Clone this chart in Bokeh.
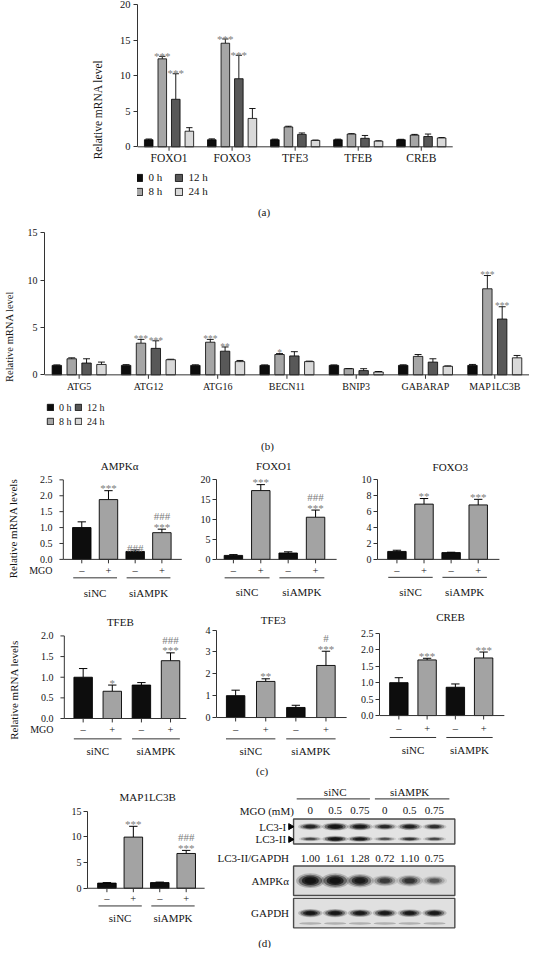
import math
import numpy as np
from bokeh.plotting import figure
from bokeh.layouts import column, row
from bokeh.models import Range1d, FixedTicker, NumeralTickFormatter, Legend, LegendItem
from bokeh.core.properties import value
from bokeh.embed import file_html
from bokeh.resources import INLINE

FONT = "Liberation Serif"

# ---------------- data: (a) ----------------
a_genes = ["FOXO1", "FOXO3", "TFE3", "TFEB", "CREB"]
times = ["0 h", "8 h", "12 h", "24 h"]
a_0h = [1.0, 1.0, 1.0, 1.0, 1.0]
a_8h = [12.4, 14.6, 2.8, 1.8, 1.65]
a_12h = [6.7, 9.6, 1.75, 1.2, 1.45]
a_24h = [2.2, 4.0, 0.9, 0.8, 1.25]
a_0h_err = [0.1, 0.12, 0.08, 0.08, 0.06]
a_8h_err = [0.35, 0.6, 0.1, 0.05, 0.1]
a_12h_err = [3.6, 3.3, 0.2, 0.4, 0.35]
a_24h_err = [0.5, 1.4, 0.05, 0.05, 0.05]
a_8h_sig = ["***", "***", "", "", ""]
a_12h_sig = ["***", "***", "", "", ""]

# ---------------- data: (b) ----------------
b_genes = ["ATG5", "ATG12", "ATG16", "BECN11", "BNIP3", "GABARAP", "MAP1LC3B"]
b_0h = [1.0, 1.0, 1.0, 1.0, 1.0, 1.0, 1.0]
b_8h = [1.7, 3.35, 3.45, 2.15, 0.65, 1.95, 9.1]
b_12h = [1.25, 2.8, 2.5, 2.0, 0.45, 1.35, 5.9]
b_24h = [1.1, 1.6, 1.4, 1.4, 0.3, 0.9, 1.8]
b_0h_err = [0.05, 0.08, 0.06, 0.05, 0.05, 0.06, 0.1]
b_8h_err = [0.1, 0.4, 0.3, 0.1, 0.02, 0.2, 1.4]
b_12h_err = [0.45, 0.8, 0.45, 0.45, 0.2, 0.35, 1.3]
b_24h_err = [0.25, 0.05, 0.12, 0.05, 0.05, 0.05, 0.25]
b_8h_sig = ["", "***", "***", "*", "", "", "***"]
b_12h_sig = ["", "***", "**", "", "", "", "***"]

# ---------------- data: (c) / (d) ----------------
mgo_signs = ["\u2013", "+", "\u2013", "+"]
si_groups = ["siNC", "siAMPK"]
ampk_mean = [1.0, 1.88, 0.25, 0.84]
ampk_err = [0.18, 0.28, 0.05, 0.11]
ampk_star = ["", "***", "", "***"]
ampk_hash = ["", "", "###", "###"]
foxo1_mean = [1.0, 17.3, 1.6, 10.6]
foxo1_err = [0.2, 1.5, 0.3, 1.8]
foxo1_star = ["", "***", "", "***"]
foxo1_hash = ["", "", "", "###"]
foxo3_mean = [1.0, 6.95, 0.85, 6.85]
foxo3_err = [0.15, 0.7, 0.05, 0.7]
foxo3_star = ["", "**", "", "***"]
foxo3_hash = ["", "", "", ""]
tfeb_mean = [1.0, 0.66, 0.81, 1.40]
tfeb_err = [0.21, 0.15, 0.06, 0.19]
tfeb_star = ["", "*", "", "***"]
tfeb_hash = ["", "", "", "###"]
tfe3_mean = [1.0, 1.65, 0.46, 2.38]
tfe3_err = [0.25, 0.12, 0.1, 0.65]
tfe3_star = ["", "**", "", "***"]
tfe3_hash = ["", "", "", "#"]
creb_mean = [1.0, 1.69, 0.86, 1.75]
creb_err = [0.15, 0.05, 0.1, 0.18]
creb_star = ["", "***", "", "***"]
creb_hash = ["", "", "", ""]
lc3b_mean = [1.0, 9.96, 1.1, 6.77]
lc3b_err = [0.1, 2.1, 0.1, 0.6]
lc3b_star = ["", "***", "", "***"]
lc3b_hash = ["", "", "", "###"]

# ---------------- data: western blot ----------------
blot_groups = ["siNC", "siAMPK"]
mgo_mM = ["0", "0.5", "0.75", "0", "0.5", "0.75"]
lc3_ratio = ["1.00", "1.61", "1.28", "0.72", "1.10", "0.75"]
band_lc3i = [0.75, 1.0, 0.9, 0.7, 0.8, 0.65]
band_lc3ii = [0.5, 0.95, 0.85, 0.45, 0.6, 0.5]
band_ampk = [1.0, 1.0, 0.85, 0.55, 0.6, 0.4]
band_gapdh = [0.95, 0.95, 0.9, 0.9, 0.88, 0.9]
blot_rows = ["LC3-I", "LC3-II", "AMPK\u03b1", "GAPDH"]

# ---------------- styling ----------------
BLACK = "#0d0d0d"
GRAY = "#a3a3a3"
A_COLORS = ["#0d0d0d", "#a6a6a6", "#585858", "#d9d9d9"]
STAR = "#7d7d7d"
AX = "#333333"
TXT = "#141414"

SX = 529 / 545
SY = 948 / 964


class Panel:
    def __init__(self, box, left, first, step, zero, top, tv):
        x0, x1, y0, y1 = box
        self.box = box
        self.W = round(x1 * SX) - round(x0 * SX)
        self.H = round(y1 * SY) - round(y0 * SY)
        self.L = round(left * SX) - round(x0 * SX)
        self.left, self.first, self.step = left, first, step
        self.zero, self.top, self.tv = zero, top, tv

    def x(self, rx):
        return (rx - self.first) / self.step

    def y(self, ry):
        return (self.zero - ry) / (self.zero - self.top) * self.tv

    def dy(self, px):
        return px * self.tv / (self.zero - self.top)


def make_fig(pn):
    x0, x1, y0, y1 = pn.box
    p = figure(width=pn.W, height=pn.H,
               x_range=Range1d(pn.x(pn.left), pn.x(x1)),
               y_range=Range1d(pn.y(y1), pn.y(y0)),
               x_axis_location=None, y_axis_location="left",
               toolbar_location=None, output_backend="svg", title=None,
               min_border_left=pn.L, min_border_right=0,
               min_border_top=0, min_border_bottom=0)
    p.outline_line_color = None
    p.grid.visible = False
    p.background_fill_color = "white"
    p.border_fill_color = "white"
    return p


def style_y(p, ticks, fmt, size, label=None, label_size="10px", standoff=2, label_standoff=8,
            bounds=None):
    ax = p.yaxis[0]
    ax.ticker = FixedTicker(ticks=ticks)
    ax.bounds = bounds if bounds else (0, ticks[-1])
    if fmt:
        ax.formatter = NumeralTickFormatter(format=fmt)
    ax.major_label_text_font = FONT
    ax.major_label_text_font_size = size
    ax.major_label_text_color = TXT
    ax.major_label_standoff = standoff
    ax.major_tick_out = 4
    ax.major_tick_in = 0
    ax.minor_tick_line_color = None
    ax.axis_line_color = AX
    ax.major_tick_line_color = AX
    if label:
        ax.axis_label = label
        ax.axis_label_text_font = FONT
        ax.axis_label_text_font_style = "normal"
        ax.axis_label_text_font_size = label_size
        ax.axis_label_text_color = TXT
        ax.axis_label_standoff = label_standoff
    return ax


def txt(p, x, y, text, size, align="center", baseline="middle", color=TXT):
    p.text(x=x, y=y, text=text, text_font=value(FONT), text_font_size=value(size),
           text_align=align, text_baseline=baseline, text_color=color)


OFFS = [-0.322, -0.107, 0.107, 0.322]


def time_panel(genes, means, errs, sig8, sig12, box, left, step, axis_end, zero, top, tv,
               ticks, label_y, fs_tick, fs_cat, ylabel_fs, ylab_standoff,
               leg_x, leg_top, leg_colw, leg_glyph, leg_fs, leg_rowh, star_fs, plabel, pxy):
    pn = Panel(box, left, left + step / 2, step, zero, top, tv)
    p = make_fig(pn)
    style_y(p, ticks, None, fs_tick, "Relative mRNA level", ylabel_fs, 3, ylab_standoff)
    n = len(genes)
    xi = np.arange(n)
    bw = 0.136
    cap = 0.05
    rs = []
    for k in range(4):
        xs = xi + OFFS[k]
        m = np.array(means[k])
        t = m + np.array(errs[k])
        p.segment(x0=xs, y0=m, x1=xs, y1=t, line_color="black", line_width=0.9)
        p.segment(x0=xs - cap, y0=t, x1=xs + cap, y1=t, line_color="black", line_width=0.9)
        r = p.vbar(x=xs, top=m, width=bw, bottom=0, fill_color=A_COLORS[k],
                   line_color="black", line_width=0.8)
        rs.append(r)
    for k, sig in ((1, sig8), (2, sig12)):
        t = np.array(means[k]) + np.array(errs[k])
        txt(p, xi + OFFS[k], t + pn.dy(0.3), sig, star_fs, baseline="alphabetic", color=STAR)
    # category axis
    p.segment(x0=[pn.x(left)], y0=[0], x1=[pn.x(axis_end)], y1=[0], line_color=AX, line_width=1)
    p.segment(x0=xi, y0=0, x1=xi, y1=-pn.dy(4), line_color=AX, line_width=1)
    txt(p, xi, np.full(n, pn.y(label_y)), genes, fs_cat)
    # legend (location = bottom-left corner of the legend box, from frame bottom-left)
    x0, x1, y0, y1 = box
    leg_h = 2 * leg_rowh + 2
    leg = Legend(items=[LegendItem(label=value(t), renderers=[r]) for t, r in zip(times, rs)],
                 location=((leg_x - left) * SX, (y1 - leg_top) * SY - leg_h),
                 orientation="vertical", ncols=2,
                 background_fill_alpha=0, border_line_alpha=0, padding=0, margin=0, spacing=2,
                 glyph_width=leg_glyph, glyph_height=leg_glyph, label_standoff=5,
                 label_width=int(leg_colw * SX - leg_glyph - 5 - 2), label_height=leg_rowh,
                 label_text_font=FONT, label_text_font_size=leg_fs, label_text_color=TXT)
    p.add_layout(leg)
    txt(p, [pn.x(pxy[0])], [pn.y(pxy[1])], [plabel], "11px")
    return p


def bar_panel(box, left, first, step, zero, top, tv, ticks, fmt, axis_end, title, title_xy,
              mean, err, stars, hashes, sign_y, line_y, group_y, ylabel=None, mgo=False,
              plabel=None, pxy=None):
    frame_left = left - 6 if mgo else left
    pn = Panel(box, frame_left, first, step, zero, top, tv)
    p = make_fig(pn)
    xi = np.arange(4)
    ys = pn.y(sign_y)
    if mgo:
        # the y axis carries tick labels plus the "MGO" row label; its line and ticks are drawn here
        ax = style_y(p, [ys] + ticks, fmt, "10px", ylabel, "11px", 1, 7, bounds=(ys, ticks[-1]))
        ax.major_label_overrides = {ys: "MGO"}
        ax.axis_line_color = None
        ax.major_tick_line_color = None
        tk = np.array(ticks, dtype=float)
        p.segment(x0=[pn.x(left)], y0=[0], x1=[pn.x(left)], y1=[ticks[-1]], line_color=AX, line_width=1)
        p.segment(x0=np.full(len(tk), pn.x(left - 4)), y0=tk, x1=np.full(len(tk), pn.x(left)), y1=tk,
                  line_color=AX, line_width=1)
    else:
        style_y(p, ticks, fmt, "10px", ylabel, "11px", 2, 8)
    m = np.array(mean)
    t = m + np.array(err)
    bw = 19.0 / step
    cap = 4.3 / step
    colors = [BLACK, GRAY, BLACK, GRAY]
    p.segment(x0=xi, y0=m, x1=xi, y1=t, line_color="black", line_width=1)
    p.segment(x0=xi - cap, y0=t, x1=xi + cap, y1=t, line_color="black", line_width=1)
    p.vbar(x=xi, top=m, width=bw, bottom=0, fill_color=colors, line_color="black", line_width=0.9)
    star_on = np.array([1.0 if s else 0.0 for s in stars])
    txt(p, xi, t + pn.dy(2.5), stars, "11px", baseline="alphabetic", color=STAR)
    txt(p, xi, t + pn.dy(1.5) + star_on * pn.dy(12), hashes, "11px", baseline="alphabetic", color=STAR)
    # x axis line and ticks
    p.segment(x0=[pn.x(left)], y0=[0], x1=[pn.x(axis_end)], y1=[0], line_color=AX, line_width=1)
    p.segment(x0=xi, y0=0, x1=xi, y1=-pn.dy(4), line_color=AX, line_width=1)
    txt(p, xi, np.full(4, ys), mgo_signs, "10.5px")
    gx = np.array([0.5, 2.5])
    p.segment(x0=gx - 0.82, y0=pn.y(line_y), x1=gx + 0.82, y1=pn.y(line_y),
              line_color=AX, line_width=1)
    txt(p, gx, np.full(2, pn.y(group_y)), si_groups, "11px")
    txt(p, [pn.x(title_xy[0])], [pn.y(title_xy[1])], [title], "11px")
    if plabel:
        txt(p, [pn.x(pxy[0])], [pn.y(pxy[1])], [plabel], "11px")
    return p


# ---------------- panel (a) ----------------
fa = time_panel(a_genes, [a_0h, a_8h, a_12h, a_24h], [a_0h_err, a_8h_err, a_12h_err, a_24h_err],
                a_8h_sig, a_12h_sig, (0, 545, 0, 222), 141.6, 64.9, 466, 149, 4.5, 20,
                [0, 5, 10, 15, 20], 160, "10.5px", "11.5px", "11.5px", 13,
                139, 176.5, 41.7, 9, "11px", 11, "11px", "(a)", (271.8, 215))

# ---------------- panel (b) ----------------
fb = time_panel(b_genes, [b_0h, b_8h, b_12h, b_24h], [b_0h_err, b_8h_err, b_12h_err, b_24h_err],
                b_8h_sig, b_12h_sig, (0, 545, 222, 462), 39.5, 72.2, 545, 381, 236.7, 15,
                [0, 5, 10, 15], 393, "10px", "10px", "10.5px", 10,
                41.5, 408.5, 29.6, 8, "10px", 12, "9.5px", "(b)", (271.8, 453))

# ---------------- panel (c) ----------------
RL = "Relative mRNA levels"
c1 = bar_panel((0, 197, 462, 612), 65, 84, 27.5, 568.3, 487.7, 2.5, [0, 0.5, 1.0, 1.5, 2.0, 2.5], "0.0",
               187, "AMPK\u03b1", (123, 474), ampk_mean, ampk_err, ampk_star, ampk_hash,
               580, 587, 602, RL, True)
c2 = bar_panel((197, 362, 462, 612), 223, 240.4, 28.2, 568.3, 487.7, 20, [0, 5, 10, 15, 20], None,
               346.7, "FOXO1", (282, 473.5), foxo1_mean, foxo1_err, foxo1_star, foxo1_hash,
               580, 587, 601)
c3 = bar_panel((362, 545, 462, 612), 388.5, 408.5, 27.9, 568.3, 487.7, 10, [0, 2, 4, 6, 8, 10], None,
               514, "FOXO3", (463.4, 475), foxo3_mean, foxo3_err, foxo3_star, foxo3_hash,
               580, 586.5, 601)
c4 = bar_panel((0, 197, 612, 790), 66, 85.4, 30, 730, 646, 2.0, [0, 0.5, 1.0, 1.5, 2.0], "0.0",
               191.6, "TFEB", (123.7, 631.7), tfeb_mean, tfeb_err, tfeb_star, tfeb_hash,
               741, 750.7, 763.3, RL, True)
c5 = bar_panel((197, 362, 612, 790), 223, 242.7, 31, 729, 640, 4, [0, 1, 2, 3, 4], None,
               357, "TFE3", (281.5, 629.3), tfe3_mean, tfe3_err, tfe3_star, tfe3_hash,
               741, 750.7, 763.3, plabel="(c)", pxy=(270, 783.3))
c6 = bar_panel((362, 545, 612, 790), 390, 410, 29.2, 727, 643.3, 2.5, [0, 0.5, 1.0, 1.5, 2.0, 2.5], "0.0",
               519, "CREB", (463.4, 626.7), creb_mean, creb_err, creb_star, creb_hash,
               740, 749.3, 761.7)

# ---------------- panel (d) left ----------------
d1 = bar_panel((0, 215, 790, 964), 89.9, 109.8, 27.1, 902.7, 824.3, 15, [0, 5, 10, 15], None,
               210, "MAP1LC3B", (151.6, 810), lc3b_mean, lc3b_err, lc3b_star, lc3b_hash,
               912.7, 920.7, 932.7)

# ---------------- panel (d) western blot ----------------
bx0, bx1, by0, by1 = 215, 545, 790, 964
LANE0, LSTEP = 319.0, 25.6


def lx(rx):
    return (rx - LANE0) / LSTEP


bw_ = round(bx1 * SX) - round(bx0 * SX)
bh_ = round(by1 * SY) - round(by0 * SY)
pb = figure(width=bw_, height=bh_, x_range=Range1d(lx(bx0), lx(bx1)), y_range=Range1d(by1, by0),
            x_axis_location=None, y_axis_location=None, toolbar_location=None,
            output_backend="svg", title=None, min_border_left=0, min_border_right=0,
            min_border_top=0, min_border_bottom=0)
pb.outline_line_color = None
pb.grid.visible = False
lanes = np.arange(6)

# group headers
txt(pb, [1.0, 4.0], [805, 805], blot_groups, "11px")
pb.segment(x0=[-0.55, 2.6], y0=[811.7, 811.7], x1=[2.4, 5.6], y1=[811.7, 811.7],
           line_color="#555555", line_width=1.2)
txt(pb, [lx(302)], [824], ["MGO (mM)"], "11px", align="right")
txt(pb, lanes, np.full(6, 824.0), mgo_mM, "11px")

# boxes
box_l, box_r = lx(301.7), lx(468)
pb.quad(left=[box_l] * 3, right=[box_r] * 3, top=[832.3, 880, 913], bottom=[857.7, 910, 943],
        fill_color=["#e3e3e3", "#dcdcdc", "#e0e0e0"], line_color="#4a4a4a", line_width=1.4)


def bands(y, inten, w, h):
    I = np.array(inten)
    for sc, al in ((1.0, 0.22), (0.82, 0.45), (0.6, 0.75), (0.4, 0.9)):
        pb.ellipse(x=lanes, y=np.full(6, float(y)), width=w * sc * (0.8 + 0.2 * I),
                   height=h * sc * (0.45 + 0.55 * I), fill_color="#121212",
                   fill_alpha=al * I, line_color=None)


bands(840, band_lc3i, 1.05, 8)
bands(852.5, band_lc3ii, 1.05, 6.5)
bands(895, band_ampk, 1.15, 15)
bands(928, band_gapdh, 1.0, 8.5)
pb.ellipse(x=lanes, y=np.full(6, 938.5), width=0.9, height=2.5, fill_color="#555555",
           fill_alpha=0.35, line_color=None)

# row labels
txt(pb, [lx(294), lx(294)], [840, 853], blot_rows[:2], "11px", align="right")
pb.scatter(x=[lx(298.5), lx(298.5)], y=[840, 853], marker="triangle", size=6,
           angle=-math.pi / 2, fill_color="black", line_color="black")
txt(pb, [lx(297)], [872.3], ["LC3-II/GAPDH"], "11px", align="right")
txt(pb, lanes, np.full(6, 872.3), lc3_ratio, "11px")
txt(pb, [lx(297), lx(297)], [895, 928], blot_rows[2:], "11px", align="right")
txt(pb, [lx(271.8)], [958], ["(d)"], "11px")

layout = column(row(fa), row(fb), row(c1, c2, c3), row(c4, c5, c6), row(d1, pb))

open("out.html", "w").write(file_html(layout, INLINE, "Figure"))
